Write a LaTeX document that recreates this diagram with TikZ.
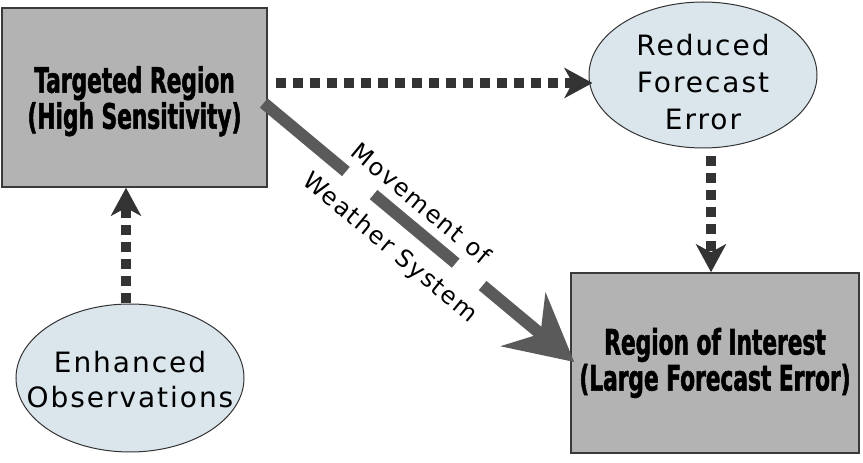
\documentclass[tikz,border=0pt]{standalone}
\usepackage{fontspec}
\setmainfont{DejaVu Sans}
\newfontfamily\heavyfont{DejaVu Sans}[FakeStretch=0.62,FakeBold=1.5]
\newfontfamily\plainfont{DejaVu Sans}[LetterSpace=7]
\usetikzlibrary{arrows.meta,calc,shapes.geometric}
\definecolor{boxfill}{HTML}{B3B3B3}
\definecolor{boxline}{HTML}{3A3A3A}
\definecolor{ellfill}{HTML}{DAE5EC}
\definecolor{dotcol}{HTML}{333333}
\definecolor{movecol}{HTML}{5A5A5A}
\begin{document}
\begin{tikzpicture}[x=1pt,y=1pt,
  regionbox/.style={draw=boxline, line width=1.5pt, fill=boxfill, rectangle, inner sep=0pt,
    align=center, font=\heavyfont\bfseries\fontsize{35}{36}\selectfont},
  infoell/.style={draw=dotcol, line width=1pt, fill=ellfill, ellipse, inner sep=-30pt,
    align=center},
  dotarrow/.style={draw=dotcol, line width=10pt, dash pattern=on 10pt off 7pt,
    -{Stealth[length=28pt,width=30pt,inset=8pt]}},
  movearrow/.style={draw=movecol, line width=12pt,
    dash pattern=on 107pt off 36pt on 107pt off 35pt on 500pt,
    -{Stealth[length=66pt,width=69pt,inset=22pt]}},
  movetext/.style={font=\plainfont\fontsize{24}{26}\selectfont, rotate=-39.7, inner sep=0pt}
]
\useasboundingbox (0,0) rectangle (863,463);

\node[regionbox, minimum width=265pt, minimum height=179pt] (tr) at (134.5,365.5)
  {\rule{0pt}{34pt}Targeted Region\\(High Sensitivity)};
\node[regionbox, minimum width=288pt, minimum height=180pt] (roi) at (715,100)
  {\rule{0pt}{26pt}Region of Interest\\(Large Forecast Error)};
\node[infoell, minimum width=228pt, minimum height=146pt,
  font=\plainfont\fontsize{28}{37}\selectfont] (rfe) at (703,388)
  {\rule{0pt}{35pt}Reduced\\Forecast\\Error};
\node[infoell, minimum width=228pt, minimum height=148pt,
  font=\plainfont\fontsize{28}{35}\selectfont] (eo) at (130,85)
  {\rule{0pt}{25pt}Enhanced\\Observations};

\draw[dotarrow] ([shift={(8,14.5)}]tr.east) -- ([shift={(4,-8)}]rfe.west);
\draw[dotarrow] ([shift={(8,-8)}]rfe.south) -- ([xshift=-4]roi.north);
\draw[dotarrow] ([xshift=-4]eo.north) -- ([xshift=-8.5]tr.south);

\coordinate (ms) at ([shift={(-4,-5.5)}]tr.east);
\coordinate (me) at ([shift={(4,1)}]roi.west);
\draw[movearrow] (ms) -- (me);
\node[movetext] (mv) at ($(ms)!187pt!7.4:(me)$) {Movement of};
\node[movetext] (ws) at ($(ms)!192pt!-9.3:(me)$) {Weather System};
\end{tikzpicture}
\end{document}
